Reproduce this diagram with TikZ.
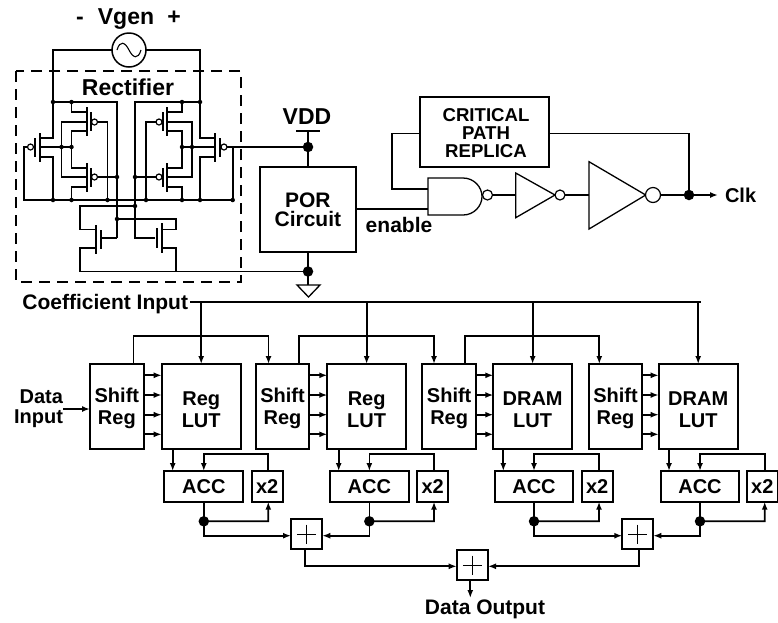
\documentclass[tikz,border=0pt]{standalone}
\usepackage{fontspec}
\setmainfont{Liberation Sans}
\usetikzlibrary{arrows.meta,calc}
\tikzset{
  lbl/.style={inner sep=0pt,outer sep=0pt,align=center,font=\fontsize{20}{22}\selectfont\bfseries},
  lblmid/.style={lbl,font=\fontsize{21}{22}\selectfont\bfseries},
  lblbig/.style={lbl,font=\fontsize{23}{24}\selectfont\bfseries},
  lblsm/.style={lbl,font=\fontsize{18.6}{18}\selectfont\bfseries},
  blk/.style={draw,line width=1.7pt,inner sep=0pt,outer sep=0pt,lbl},
  wire/.style={line width=1.7pt},
  arr/.style={wire,-{Latex[length=8pt,width=6pt]}},
  bar/.style={line width=2pt},
  bub/.style={draw,fill=white,circle,line width=1.2pt,inner sep=0pt,outer sep=0pt,minimum size=6pt},
  bigdot/.style={fill=black,circle,inner sep=0pt,outer sep=0pt,minimum size=10.5pt},
  smalldot/.style={fill=black,circle,inner sep=0pt,outer sep=0pt,minimum size=4.5pt},
}
\newcommand{\boxat}[6]{\node[blk,minimum width={(#4-#2)*1pt},minimum height={(#5-#3)*1pt}] (#1) at ({(#2+#4)/2},{(#3+#5)/2}) {#6};}
\newcommand{\topst}{\rule{0pt}{19.5pt}}
\newcommand{\midfont}{\fontsize{21}{22}\selectfont}
\begin{document}
\begin{tikzpicture}[x=1pt,y=-1pt]
\useasboundingbox (0,0) rectangle (778,622);
% ---- source
\node[lblbig,anchor=base] (vgen) at (126,24) {Vgen};
\node[lblbig,anchor=base] (minus) at (80,24) {-};
\node[lblbig,anchor=base] (plus) at (174,24) {+};
\node[draw,circle,line width=1.5pt,minimum size=34pt,inner sep=0pt,outer sep=0pt] (src) at (129,50) {};
\draw[line width=1.1pt] (117,50) .. controls (120,40) and (125,42) .. (129,50) .. controls (133,58) and (138,60) .. (141,50);
\draw[dash pattern=on 11pt off 7pt,line width=1.3pt] (16,71) rectangle (241,282);
\node[lblbig,anchor=base] (rect) at (128,95) {Rectifier};
\coordinate (lrail) at (53,102);
\coordinate (rrail) at (200,102);
\draw[wire] (src.west) -- (53,50) -- (lrail);
\draw[wire] (src.east) -- (200,50) -- (rrail);
\draw[wire] (117,238) -- (117,102) -- (lrail);
\draw[wire] (155,238) -- (135,238) -- (135,102) -- (rrail);
\draw[wire] (100,238) -- (117,238);
% big left PMOS
\draw[bar] (39.5,133) -- (39.5,162) (34.5,138) -- (34.5,157);
\draw[wire] (lrail) -- (53,138) -- (39.5,138);
\draw[wire] (39.5,157) -- (53,157) -- (53,200);
\draw[wire] (39.5,147) -- (71.5,147);
\draw[wire] (30,147) -- (24,147) -- (24,200) -- (232.7,200);
\node[bub] (bl) at (30.5,147) {};
% left upper, lower
\draw[bar] (86.5,107) -- (86.5,136) (91,112) -- (91,131);
\draw[bar] (86.5,163) -- (86.5,192) (91,168) -- (91,187);
\draw[wire] (71.5,102) -- (71.5,112) -- (86.5,112);
\draw[wire] (86.5,131) -- (71.5,131) -- (71.5,168) -- (86.5,168);
\draw[wire] (86.5,187) -- (71.5,187) -- (71.5,200);
\draw[wire] (86.5,122) -- (61.5,122) -- (61.5,177) -- (86.5,177);
\draw[wire] (97,122) -- (107.5,122) -- (107.5,200);
\draw[wire] (97,177) -- (117,177);
\node[bub] (b1) at (94.5,122) {};
\node[bub] (b2) at (94.5,177) {};
% big right PMOS
\draw[bar] (215,133) -- (215,162) (220,138) -- (220,157);
\draw[wire] (rrail) -- (200,138) -- (215,138);
\draw[wire] (215,157) -- (200,157) -- (200,200);
\draw[wire] (215,147) -- (182,147);
\coordinate (vddtap) at (308,147);
\draw[wire] (227,147) -- (vddtap);
\draw[wire] (232.7,147) -- (232.7,200);
\node[bub] (br) at (224,147) {};
% right upper, lower
\draw[bar] (167.3,107) -- (167.3,136) (162.7,112) -- (162.7,131);
\draw[bar] (167.3,163) -- (167.3,192) (162.7,168) -- (162.7,187);
\draw[wire] (182,102) -- (182,112) -- (167.3,112);
\draw[wire] (167.3,131) -- (182,131) -- (182,168) -- (167.3,168);
\draw[wire] (167.3,187) -- (182,187) -- (182,200);
\draw[wire] (167.3,122) -- (192,122) -- (192,177) -- (167.3,177);
\draw[wire] (156,122) -- (146,122) -- (146,200);
\draw[wire] (156,177) -- (135,177);
\node[bub] (b3) at (159,122) {};
\node[bub] (b4) at (159,177) {};
% NMOS
\draw[bar] (95.5,225) -- (95.5,254) (100.7,230) -- (100.7,249);
\draw[bar] (161.7,223) -- (161.7,253) (156.7,228) -- (156.7,248);
\draw[wire] (135,206) -- (80,206) -- (80,229.5) -- (95.5,229.5);
\draw[wire] (95.5,248) -- (80,248) -- (80,271.5) -- (308,271.5);
\draw[wire] (161.7,229.5) -- (175.7,229.5) -- (175.7,219) -- (117,219);
\draw[wire] (161.7,248) -- (175.7,248) -- (175.7,271.5);
\foreach \p in {(53,102),(71.5,102),(182,102),(200,102),(61.5,147),(71.5,147),(182,147),(192,147),(53,200),(71.5,200),(107.5,200),(146,200),(182,200),(200,200),(232.7,200),(117,177),(135,177),(135,206),(117,219)}
  \node[smalldot] at \p {};
% ---- POR
\node[lblbig,anchor=base] (vdd) at (307,124) {VDD};
\draw[line width=1.5pt] (296,131) -- (320,131);
\boxat{por}{260}{167}{355.7}{252}{\midfont POR\\[-3pt]\midfont Circuit}
\coordinate (vddbar) at (308,131);
\draw[wire] (vddbar) -- (por.north -| vddbar);
\coordinate (gndtop) at (308,285);
\draw[wire] (por.south -| gndtop) -- (gndtop);
\draw[line width=1.3pt,line join=miter] (297,285) -- (320,285) -- (308.5,297) -- cycle;
\node[bigdot] (dvdd) at (vddtap) {};
\node[bigdot] (dgnd) at (308,271.5) {};
\node[lblmid] (en) at (399,225) {enable};
% ---- clock chain
\boxat{cpr}{420}{97}{549}{167}{}
\node[lblsm] (cprt) at (486,133) {CRITICAL\\PATH\\REPLICA};
\coordinate (ng1) at (428,189);
\coordinate (ng2) at (428,209);
\draw[line width=1.3pt] (428,178) -- (463,178) .. controls (474,178) and (482,187) .. (482,196.5) .. controls (482,206) and (474,215) .. (463,215) -- (428,215) -- cycle;
\node[bub,minimum size=10pt] (nb) at (487.5,195) {};
\draw[wire] (por.east |- ng2) -- (ng2);
\draw[wire] (cpr.west |- 0,133.5) -- (392,133.5) -- (392,189) -- (ng1);
\coordinate (i1) at (515.7,195);
\draw[line width=1.3pt] (i1 |- 0,173) -- (555,195) -- (i1 |- 0,217.7) -- cycle;
\node[bub,minimum size=10pt] (ib1) at (560,195) {};
\coordinate (i2) at (589,195);
\draw[line width=1.3pt] (i2 |- 0,161.7) -- (645.7,195) -- (i2 |- 0,229) -- cycle;
\node[bub,minimum size=15pt] (ib2) at (653,195) {};
\draw[wire] (nb.east) -- (i1);
\draw[wire] (ib1.east) -- (i2);
\node[bigdot] (dclk) at (689,195) {};
\node[lbl,anchor=west] (clk) at (725,195) {Clk};
\draw[wire] (ib2.east) -- (dclk);
\coordinate (clkend) at (718,195);
\draw[arr] (dclk) -- (clkend);
\draw[wire] (cpr.east |- 0,133.5) -- (689,133.5) -- (dclk);
% ---- blocks
\boxat{s1}{90}{364}{143.7}{448.7}{\topst Shift\\Reg}
\boxat{s2}{255.7}{364}{309.3}{448.7}{\topst Shift\\Reg}
\boxat{s3}{422.3}{364}{476}{448.7}{\topst Shift\\Reg}
\boxat{s4}{588.7}{364}{642.3}{448.7}{\topst Shift\\Reg}
\boxat{l1}{161.7}{364}{240.7}{448.7}{\topst Reg\\LUT}
\boxat{l2}{327.3}{364}{406}{448.7}{\topst Reg\\LUT}
\boxat{l3}{493.3}{364}{572}{448.7}{\topst DRAM\\LUT}
\boxat{l4}{658.7}{364}{737.7}{448.7}{\topst DRAM\\LUT}
\boxat{a1}{164.3}{471}{243.3}{501.7}{ACC}
\boxat{a2}{330}{471}{408.7}{501.7}{ACC}
\boxat{a3}{494.7}{471}{573.3}{501.7}{ACC}
\boxat{a4}{660.7}{471}{739.3}{501.7}{ACC}
\boxat{x1}{251.7}{471}{282.7}{501.7}{x2}
\boxat{x2}{417}{471}{448.3}{501.7}{x2}
\boxat{x3}{581.7}{471}{612.7}{501.7}{x2}
\boxat{x4}{747}{471}{777.5}{501.7}{x2}
\boxat{p1}{291}{518.7}{322.3}{549.3}{}
\boxat{p2}{622.3}{518.7}{653.3}{549.3}{}
\boxat{p3}{456.7}{549.7}{488}{580.3}{}
\foreach \n in {p1,p2,p3}
  \draw[line width=.9pt] ($(\n.center)+(-9.5,0)$) -- ($(\n.center)+(9.5,0)$) ($(\n.center)+(0,-9.5)$) -- ($(\n.center)+(0,9.5)$);
% coefficient bus
\node[lblmid,anchor=east] (coef) at (188,304) {Coefficient Input};
\coordinate (busl) at (190,302);
\draw[wire] (busl) -- (701,302);
\foreach \n in {1,2,3,4}
  \draw[arr] (l\n.north |- busl) -- (l\n.north);
% shift loops
\foreach \a/\xa/\b/\xb in {s1/133.5/s2/268.5, s2/299.3/s3/434, s3/465/s4/599.3}{
  \draw[arr] (\xa,364) -- (\xa,336) -- (\xb,336) -- (\xb,364);
}
% shift to LUT
\foreach \n in {1,2,3,4}
  \foreach \y in {375.3,395,414.7,434.3}
    \draw[arr] (s\n.east |- 0,\y) -- (l\n.west |- 0,\y);
% data input
\node[lbl,align=right,anchor=east] (din) at (63,409) {Data\\[-2pt]Input};
\coordinate (dinstart) at (63,409);
\draw[arr] (dinstart) -- (s1.west |- dinstart);
% LUT -> ACC and feedback
\foreach \n/\lx/\xx in {1/172.7/268.3,2/338.7/434,3/503.3/599,4/669/764.7}{
  \draw[arr] (\lx,448.7) -- (\lx,471);
  \coordinate (fb\n) at (a\n.north);
  \draw[arr] (\xx,471) -- (\xx,454) -- (fb\n |- 0,454) -- (fb\n);
  \coordinate (out\n) at ($(a\n.south)+(0,19.6)$);
  \draw[wire] (a\n.south) -- (out\n);
  \draw[arr] (out\n) -- (\xx,521.3) -- (\xx,501.7);
  \node[bigdot] (dot\n) at (out\n) {};
}
\coordinate (sumy) at (0,535.7);
\draw[arr] (out1) -- (out1 |- sumy) -- (p1.west |- sumy);
\draw[arr] (out2) -- (out2 |- sumy) -- (p1.east |- sumy);
\draw[arr] (out3) -- (out3 |- sumy) -- (p2.west |- sumy);
\draw[arr] (out4) -- (out4 |- sumy) -- (p2.east |- sumy);
\coordinate (sumz) at (0,566.3);
\draw[arr] (p1.south -| 305,0) -- (305,566.3) -- (p3.west |- sumz);
\draw[arr] (p2.south -| 639,0) -- (639,566.3) -- (p3.east |- sumz);
\node[lblmid] (dout) at (485,609) {Data Output};
\draw[arr] (p3.south -| 470.3,0) -- (470.3,598);
\end{tikzpicture}
\end{document}
